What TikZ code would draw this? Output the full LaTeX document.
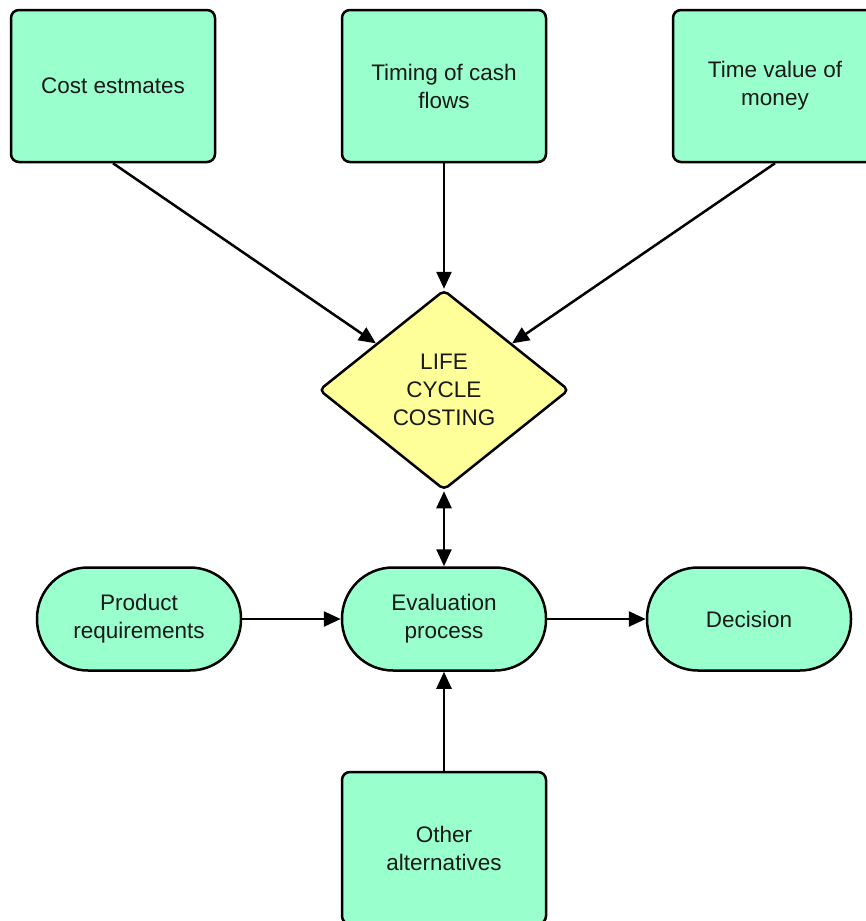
\documentclass[tikz,border=0pt]{standalone}
\usepackage{fontspec}
\setmainfont{Liberation Sans}
\usetikzlibrary{arrows.meta,shapes.geometric}
\definecolor{mint}{HTML}{99FFCC}
\definecolor{pale}{HTML}{FFFF99}
\begin{document}
\begin{tikzpicture}[x=1pt,y=-1pt,
  txt/.style={align=center, font=\fontsize{22.5}{28}\selectfont, text=black!90},
  box/.style={txt, draw=black, line width=2.5pt, fill=mint, rounded corners=8pt, minimum width=204pt, minimum height=152pt, inner sep=0pt},
  pill/.style={txt, draw=black, line width=2.5pt, fill=mint, rounded corners=51pt, minimum width=204pt, minimum height=103pt, inner sep=0pt},
  dia/.style={txt, diamond, draw=black, line width=2.5pt, fill=pale, minimum width=250pt, minimum height=200pt, aspect=1.25, rounded corners=5pt, inner sep=0pt},
  tip/.style={Triangle[length=17pt,width=15pt]},
  arr/.style={line width=2.5pt, -{Triangle[length=17pt,width=15pt]}},
  darr/.style={line width=2.5pt, {Triangle[length=17pt,width=15pt]}-{Triangle[length=17pt,width=15pt]}},
]
\fill[white] (0,0) rectangle (865,921);
\useasboundingbox (0,0) rectangle (865,921);

\node[box] (cost) at (113,86) {Cost estmates};
\node[box] (timing) at (444,86) {Timing of cash\\flows};
\node[box] (tvm) at (775,86) {Time value of\\money};
\node[dia] (lcc) at (444,390) {LIFE\\CYCLE\\COSTING};
\node[pill] (prod) at (139,619) {Product\\requirements};
\node[pill] (eval) at (444,619) {Evaluation\\process};
\node[pill] (dec) at (749,619) {Decision};
\node[box] (other) at (444,848) {Other\\alternatives};

\draw[arr] (cost.south) -- (lcc);
\draw[arr] (timing.south) -- (lcc.north);
\draw[arr] (tvm.south) -- (lcc);
\draw[darr] (lcc.south) -- (eval.north);
\draw[arr] (prod.east) -- (eval.west);
\draw[arr] (eval.east) -- (dec.west);
\draw[arr] (other.north) -- (eval.south);
\end{tikzpicture}
\end{document}
